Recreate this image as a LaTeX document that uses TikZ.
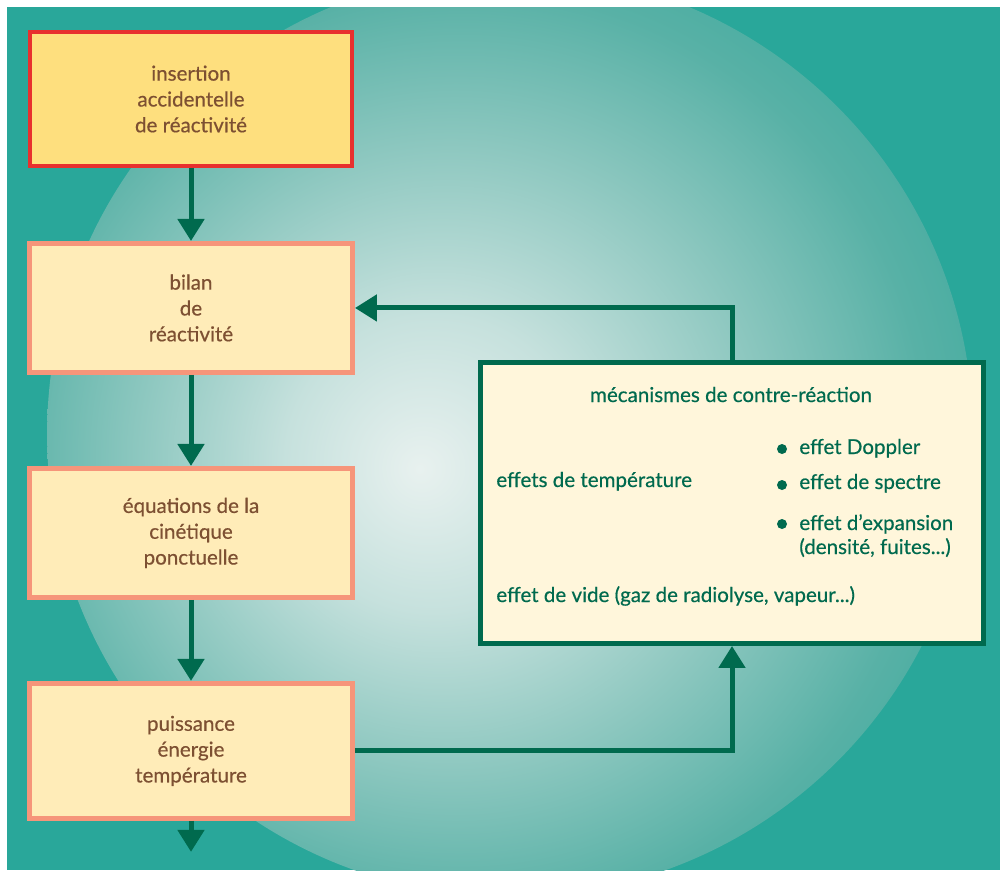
\documentclass[tikz,border=0pt]{standalone}
\usepackage{fontspec}
\setmainfont{Lato}[BoldFont={Lato},BoldFeatures={FakeBold=0.5}]
\usetikzlibrary{positioning,arrows.meta}
\definecolor{sea}{HTML}{29A79A}
\definecolor{glowA}{HTML}{E8F1EF}
\definecolor{glowB}{HTML}{C6E1DD}
\definecolor{glowC}{HTML}{8CC7BF}
\definecolor{glowD}{HTML}{58B1A6}
\definecolor{glowE}{HTML}{3FAA9E}
\definecolor{pine}{HTML}{006A4E}
\definecolor{salmon}{HTML}{F6957A}
\definecolor{alertred}{HTML}{E8302E}
\definecolor{butter}{HTML}{FEDF7E}
\definecolor{cream}{HTML}{FFECB8}
\definecolor{paper}{HTML}{FFF6DB}
\definecolor{bark}{HTML}{7D5032}
\pgfdeclareradialshading{glow}{\pgfpoint{-4.9bp}{-1.9bp}}{%
  color(0bp)=(glowA); color(8bp)=(glowB); color(17bp)=(glowC);
  color(25bp)=(glowD); color(31bp)=(glowE); color(50bp)=(glowE)}
\tikzset{
  boxfont/.style={font=\fontsize{11.7}{14.7}\selectfont\bfseries},
  chainbox/.style={rectangle,draw=salmon,line width=0.1cm,fill=cream,text=bark,
    align=center,minimum width=6.46cm,minimum height=2.58cm,boxfont},
  startbox/.style={chainbox,draw=alertred,line width=0.08cm,fill=butter,
    minimum width=6.44cm,minimum height=2.68cm},
  loopbox/.style={rectangle,draw=pine,line width=0.1cm,fill=paper,
    minimum width=10.06cm,minimum height=5.62cm},
  fbtext/.style={text=pine,inner sep=0pt,anchor=base west,boxfont},
  dot/.style={circle,fill=pine,minimum size=0.2cm,inner sep=0}, 
  flow/.style={draw=pine,line width=0.1cm,-{Triangle[width=0.52cm,length=0.44cm]}}
}
\begin{document}
\begin{tikzpicture}[x=0.02cm,y=-0.02cm]
  \useasboundingbox (0,0) rectangle (1000,870);
  % background
  \fill[sea] (7,7) rectangle (1000,870);
  \begin{scope}
    \clip (7,7) rectangle (1000,870);
    \shade[shading=glow] (510,434) circle[radius=9.26cm];
  \end{scope}

  % chain of boxes
  \node[startbox] (insertion) at (191,99) {insertion\\accidentelle\\de réactivité};
  \node[chainbox,below=1.46cm of insertion] (bilan) {bilan\\de\\réactivité};
  \node[chainbox,below=1.82cm of bilan] (cinetique) {équations de la\\cinétique\\ponctuelle};
  \node[chainbox,below=1.62cm of cinetique,minimum height=2.70cm] (puissance)
    {puissance\\énergie\\température};
  \coordinate[below=0.62cm of puissance] (suite);

  % feedback box
  \node[loopbox] (meca) at (732,503) {};
  \node[fbtext,anchor=base] (titre) at (731,402) {mécanismes de contre-réaction};
  \node[fbtext] (temp) at (496,487) {effets de température};
  \node[fbtext] (doppler) at (799,454) {effet Doppler};
  \node[fbtext] (spectre) at (799,489) {effet de spectre};
  \node[fbtext] (expansion) at (799,530) {effet d’expansion};
  \node[fbtext] (fuites) at (799,554) {(densité, fuites...)};
  \node[fbtext] (vide) at (496,602) {effet de vide (gaz de radiolyse, vapeur...)};
  \node[dot] (d1) at (782,449) {};
  \node[dot] (d2) at (782,485) {};
  \node[dot] (d3) at (782,524) {};

  % connectors
  \draw[flow] (insertion) -- (bilan);
  \draw[flow] (bilan) -- (cinetique);
  \draw[flow] (cinetique) -- (puissance);
  \draw[flow] (puissance) -- (suite);
  \draw[flow] (puissance.east) -| (meca.south);
  \draw[flow] (meca.north) |- (bilan.east);
\end{tikzpicture}
\end{document}
